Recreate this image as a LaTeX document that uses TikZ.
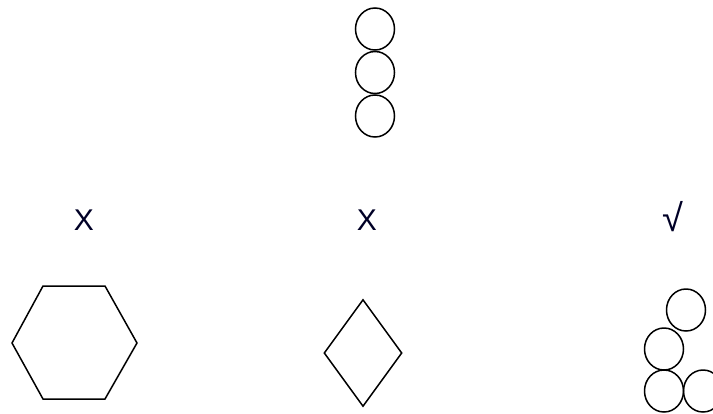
\documentclass[tikz,border=0pt]{standalone}
\usepackage{fontspec}
\setmainfont{Liberation Sans}
\usetikzlibrary{shapes.geometric,positioning}

\begin{document}
\begin{tikzpicture}[
  x=1pt, y=-1pt,
  line width=1.5pt,
  ring/.style={draw, ellipse, minimum width=39pt, minimum height=42pt, inner sep=0pt},
  verdict/.style={font=\fontsize{30}{34}\selectfont, text=black!85!blue, inner sep=0pt},
]
\useasboundingbox (0,0) rectangle (713,413);
\clip (0,0) rectangle (713,413);
% column of three rings
\node[ring] (c1) at (375,29) {};
\node[ring, below=0pt of c1] (c2) {};
\node[ring, below=0pt of c2] (c3) {};
% verdicts
\node[verdict] (v1) at (84,220) {X};
\node[verdict] (v2) at (367,220) {X};
\node[verdict, font=\fontsize{38}{42}\selectfont] (v3) at (673,217) {√};
% hexagon
\draw (12,343) -- (43,286) -- (105,286) -- (137,343) -- (105,399) -- (43,399) -- cycle;
% diamond
\node[draw, diamond, minimum width=78pt, minimum height=107pt, inner sep=0pt] (d) at (363,353) {};
% pile of rings
\node[ring] (p1) at (686,310) {};
\node[ring] (p2) at (664,349) {};
\node[ring] (p3) at (664,391) {};
\node[ring] (p4) at (703,391) {};
\end{tikzpicture}
\end{document}
